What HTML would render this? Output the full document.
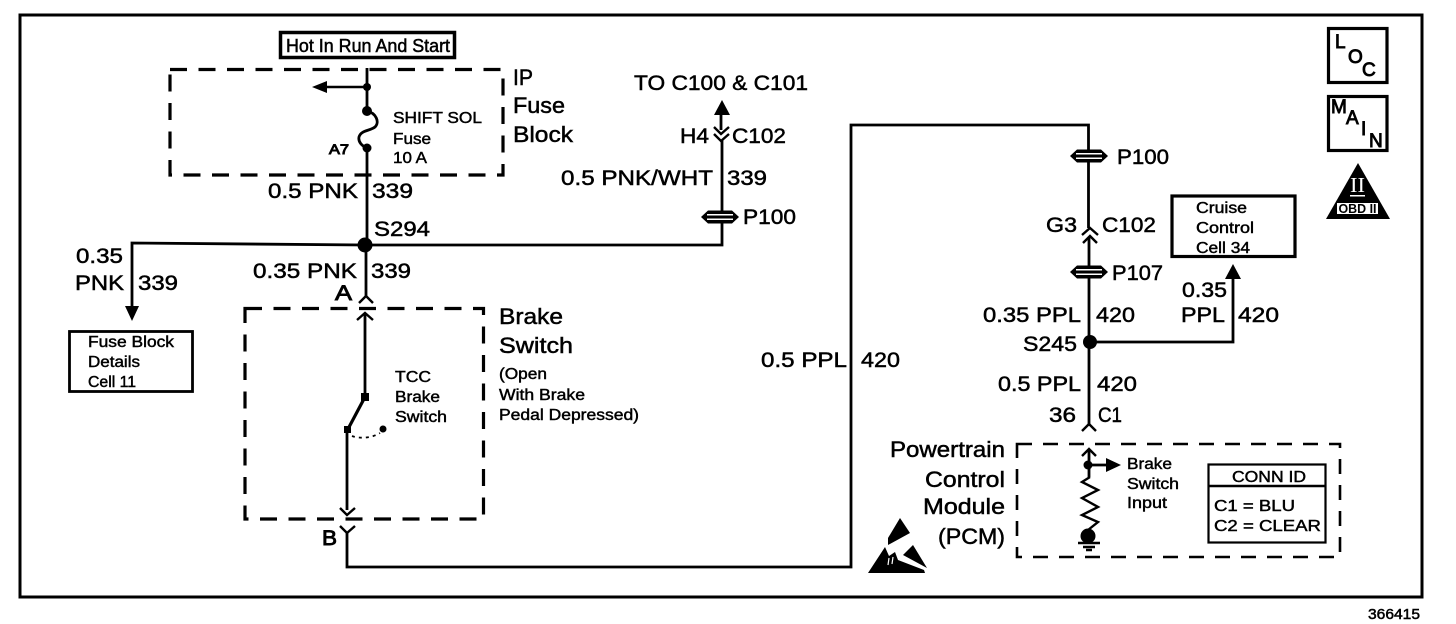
<!DOCTYPE html>
<html>
<head>
<meta charset="utf-8">
<style>
html,body{margin:0;padding:0;background:#fff;width:1456px;height:624px;overflow:hidden}
svg{display:block}
text{font-family:"Liberation Sans",sans-serif;fill:#000;stroke:#000;stroke-width:.5;font-size:21.5px}
.l{font-size:22.5px}
.s{font-size:15.5px;stroke-width:.45}
.b{font-weight:bold;stroke:none}
.h{stroke-width:.9}
.w{fill:none;stroke:#000;stroke-width:2.8}
.t{fill:none;stroke:#000;stroke-width:2.4}
.d{fill:none;stroke:#000;stroke-width:3.2;stroke-dasharray:17 11.5}
.k{fill:#000;stroke:none}
</style>
</head>
<body>
<svg width="1456" height="624" viewBox="0 0 1456 624" xmlns="http://www.w3.org/2000/svg">
<defs>
<g id="pc">
<path class="k" d="M-19 0L-12-6.5H12L19 0L12 6.5H-12Z"/>
<rect x="-13" y="-3" width="26" height="1.5" fill="#fff"/>
<rect x="-13" y="1.5" width="26" height="1.5" fill="#fff"/>
</g>
</defs>

<!-- outer frame -->
<rect x="20" y="15" width="1402" height="582" fill="none" stroke="#000" stroke-width="3"/>

<!-- top left -->
<rect x="280.5" y="32.5" width="174" height="25" fill="none" stroke="#000" stroke-width="3.5"/>
<text x="286" y="52" style="font-size:18.5px" textLength="164" lengthAdjust="spacingAndGlyphs">Hot In Run And Start</text>
<rect class="d" x="170" y="69.5" width="333" height="105.5"/>
<path class="w" d="M367 68V111M367 148V245"/>
<path class="t" d="M367 87H325"/>
<path class="k" d="M312 87L327 81V93Z"/>
<circle class="k" cx="367" cy="87" r="4"/>
<circle class="k" cx="367" cy="111" r="5"/>
<circle class="k" cx="367" cy="148" r="4.5"/>
<path class="w" d="M367 111C376 113 380 122 375 127C370 131 361 130 359 137C358 142 362 146 367 148"/>
<text class="s" x="393" y="123" textLength="89" lengthAdjust="spacingAndGlyphs">SHIFT SOL</text>
<text class="s" x="393" y="144" textLength="38" lengthAdjust="spacingAndGlyphs">Fuse</text>
<text class="s" x="393" y="163" textLength="34" lengthAdjust="spacingAndGlyphs">10 A</text>
<text class="h" x="329" y="154" style="font-size:13.5px" textLength="20" lengthAdjust="spacingAndGlyphs">A7</text>
<text class="l" x="513" y="85" textLength="20" lengthAdjust="spacingAndGlyphs">IP</text>
<text class="l" x="513" y="113" textLength="52" lengthAdjust="spacingAndGlyphs">Fuse</text>
<text class="l" x="513" y="142" textLength="60" lengthAdjust="spacingAndGlyphs">Block</text>
<text x="268" y="198" textLength="90" lengthAdjust="spacingAndGlyphs">0.5 PNK</text>
<text x="372" y="198" textLength="41" lengthAdjust="spacingAndGlyphs">339</text>
<text x="374" y="236" textLength="56" lengthAdjust="spacingAndGlyphs">S294</text>

<!-- S294 branch -->
<path class="w" d="M132 306V243L365 245H722V140"/>
<circle class="k" cx="365" cy="245" r="7.5"/>
<path class="w" d="M366 245V296"/>
<path class="t" d="M359 303L366 296L373 303"/>
<text x="253" y="278" textLength="104" lengthAdjust="spacingAndGlyphs">0.35 PNK</text>
<text x="371" y="278" textLength="40" lengthAdjust="spacingAndGlyphs">339</text>
<text class="h" x="335" y="300" textLength="17" lengthAdjust="spacingAndGlyphs">A</text>
<text x="76" y="263" textLength="47" lengthAdjust="spacingAndGlyphs">0.35</text>
<text x="75" y="290" textLength="49" lengthAdjust="spacingAndGlyphs">PNK</text>
<text x="138" y="290" textLength="40" lengthAdjust="spacingAndGlyphs">339</text>
<path class="k" d="M125 306H139L132 321Z"/>
<rect x="69.5" y="331.5" width="123" height="60" fill="none" stroke="#000" stroke-width="2.8"/>
<text class="s" x="88" y="347" textLength="86" lengthAdjust="spacingAndGlyphs">Fuse Block</text>
<text class="s" x="88" y="367" textLength="52" lengthAdjust="spacingAndGlyphs">Details</text>
<text class="s" x="88" y="387" textLength="48" lengthAdjust="spacingAndGlyphs">Cell 11</text>

<!-- brake switch -->
<rect class="d" x="245" y="308.5" width="238.5" height="210.5"/>
<path class="t" d="M357 320L365 313L373 320"/>
<path class="w" d="M365 314V397"/>
<path fill="none" stroke="#000" stroke-width="3.2" d="M365 397L348 429"/>
<rect class="k" x="361" y="393" width="8" height="8"/>
<rect class="k" x="344" y="426" width="7" height="7"/>
<path class="w" d="M347 430V510"/>
<path class="t" d="M340 508L347 515L355 508"/>
<circle class="k" cx="383" cy="429" r="3.5"/>
<path fill="none" stroke="#000" stroke-width="1.8" stroke-dasharray="3 4" d="M352 436C360 439 372 438 380 433"/>
<text class="s" x="395" y="382" textLength="36" lengthAdjust="spacingAndGlyphs">TCC</text>
<text class="s" x="395" y="402" textLength="45" lengthAdjust="spacingAndGlyphs">Brake</text>
<text class="s" x="395" y="422" textLength="52" lengthAdjust="spacingAndGlyphs">Switch</text>
<text class="l" x="499" y="324" textLength="64" lengthAdjust="spacingAndGlyphs">Brake</text>
<text class="l" x="499" y="353" textLength="74" lengthAdjust="spacingAndGlyphs">Switch</text>
<text class="s" x="499" y="379" textLength="48" lengthAdjust="spacingAndGlyphs">(Open</text>
<text class="s" x="499" y="400" textLength="86" lengthAdjust="spacingAndGlyphs">With Brake</text>
<text class="s" x="499" y="420" textLength="140" lengthAdjust="spacingAndGlyphs">Pedal Depressed)</text>
<text class="h" x="322" y="545" textLength="15" lengthAdjust="spacingAndGlyphs">B</text>
<path class="t" d="M340 526L347 533L355 526"/>
<path class="w" d="M347 532V567H851V125H1088.5V228"/>

<!-- C100/C101 -->
<text x="634" y="90" textLength="174" lengthAdjust="spacingAndGlyphs">TO C100 &amp; C101</text>
<path class="k" d="M722 100L714 115H730Z"/>
<path class="w" d="M721 114V130"/>
<path class="t" d="M714 127L721 134L729 127M714 134L721 141L729 134"/>
<text x="680" y="143" textLength="29" lengthAdjust="spacingAndGlyphs">H4</text>
<text x="732" y="143" textLength="54" lengthAdjust="spacingAndGlyphs">C102</text>
<text x="561" y="185" textLength="152" lengthAdjust="spacingAndGlyphs">0.5 PNK/WHT</text>
<text x="727" y="185" textLength="40" lengthAdjust="spacingAndGlyphs">339</text>
<use href="#pc" x="720" y="217"/>
<text x="743" y="224" textLength="53" lengthAdjust="spacingAndGlyphs">P100</text>
<text x="761" y="367" textLength="86" lengthAdjust="spacingAndGlyphs">0.5 PPL</text>
<text x="861" y="367" textLength="39" lengthAdjust="spacingAndGlyphs">420</text>

<!-- right chain -->
<use href="#pc" x="1089" y="156"/>
<text x="1117" y="164" textLength="52" lengthAdjust="spacingAndGlyphs">P100</text>
<text x="1046" y="232" textLength="31" lengthAdjust="spacingAndGlyphs">G3</text>
<text x="1102" y="232" textLength="54" lengthAdjust="spacingAndGlyphs">C102</text>
<path class="t" d="M1082 235L1090 228L1098 235M1083 243L1090 236L1097 243"/>
<path class="w" d="M1089 237V426"/>
<use href="#pc" x="1089" y="272"/>
<text x="1112" y="280" textLength="51" lengthAdjust="spacingAndGlyphs">P107</text>
<text x="983" y="322" textLength="98" lengthAdjust="spacingAndGlyphs">0.35 PPL</text>
<text x="1096" y="322" textLength="39" lengthAdjust="spacingAndGlyphs">420</text>
<text x="1023" y="351" textLength="54" lengthAdjust="spacingAndGlyphs">S245</text>
<circle class="k" cx="1090" cy="342" r="7"/>
<path class="w" d="M1090 342H1233V276"/>
<path class="k" d="M1233 264L1225 279H1241Z"/>
<text x="1182" y="297" textLength="45" lengthAdjust="spacingAndGlyphs">0.35</text>
<text x="1181" y="322" textLength="44" lengthAdjust="spacingAndGlyphs">PPL</text>
<text x="1238" y="322" textLength="41" lengthAdjust="spacingAndGlyphs">420</text>
<text x="998" y="391" textLength="83" lengthAdjust="spacingAndGlyphs">0.5 PPL</text>
<text x="1097" y="391" textLength="40" lengthAdjust="spacingAndGlyphs">420</text>
<text x="1049" y="422" textLength="27" lengthAdjust="spacingAndGlyphs">36</text>
<text x="1098" y="422" textLength="24" lengthAdjust="spacingAndGlyphs">C1</text>
<path class="t" d="M1082 431L1089 424L1096 431"/>
<rect x="1172" y="196" width="123" height="60.5" fill="none" stroke="#000" stroke-width="3.2"/>
<text class="s" x="1196" y="213" textLength="51" lengthAdjust="spacingAndGlyphs">Cruise</text>
<text class="s" x="1196" y="233" textLength="58" lengthAdjust="spacingAndGlyphs">Control</text>
<text class="s" x="1196" y="253" textLength="54" lengthAdjust="spacingAndGlyphs">Cell 34</text>

<!-- LOC / MAIN / OBD -->
<rect x="1328.5" y="28.5" width="58.5" height="54" fill="none" stroke="#000" stroke-width="3.2"/>
<text class="h" x="1335" y="48" style="font-size:19px">L</text>
<text class="h" x="1348" y="63" style="font-size:19px">O</text>
<text class="h" x="1362" y="76" style="font-size:19px">C</text>
<rect x="1328.5" y="96.5" width="58.5" height="54" fill="none" stroke="#000" stroke-width="3.2"/>
<text class="h" x="1331" y="113" style="font-size:19px">M</text>
<text class="h" x="1346" y="124" style="font-size:19px">A</text>
<text class="h" x="1361" y="135" style="font-size:19px">I</text>
<text class="h" x="1369" y="147" style="font-size:19px">N</text>
<path class="k" d="M1358 163L1326 219H1390Z"/>
<text x="1350" y="192" style="font-family:'Liberation Serif',serif;font-size:21px;fill:#fff;stroke:none" textLength="15" lengthAdjust="spacingAndGlyphs">II</text>
<rect x="1350" y="195" width="15" height="1.5" fill="#fff"/>
<rect x="1337" y="203" width="41" height="11" fill="#fff"/>
<text class="b" x="1338.5" y="213" style="font-size:12.5px" textLength="38" lengthAdjust="spacingAndGlyphs">OBD II</text>

<!-- PCM -->
<text class="l" x="890" y="457" textLength="115" lengthAdjust="spacingAndGlyphs">Powertrain</text>
<text class="l" x="925" y="487" textLength="80" lengthAdjust="spacingAndGlyphs">Control</text>
<text class="l" x="923" y="514" textLength="82" lengthAdjust="spacingAndGlyphs">Module</text>
<text class="l" x="938" y="544" textLength="67" lengthAdjust="spacingAndGlyphs">(PCM)</text>
<rect x="1017" y="444" width="323" height="113" fill="none" stroke="#000" stroke-width="2.6" stroke-dasharray="15 11"/>
<path class="t" d="M1082 456L1089 449L1096 456"/>
<path class="w" d="M1089 450V477"/>
<circle class="k" cx="1088" cy="465" r="4.5"/>
<path class="w" d="M1088 465H1108"/>
<path class="k" d="M1106 458L1121 465L1106 472Z"/>
<path class="t" d="M1090 477L1082 482L1098 490L1082 498L1098 507L1082 515L1098 522L1088 530"/>
<circle class="k" cx="1088" cy="536" r="7.5"/>
<path class="t" d="M1078 543H1100M1083 547H1095M1086 550H1092"/>
<text class="s" x="1127" y="469" textLength="45" lengthAdjust="spacingAndGlyphs">Brake</text>
<text class="s" x="1127" y="489" textLength="52" lengthAdjust="spacingAndGlyphs">Switch</text>
<text class="s" x="1127" y="508" textLength="40" lengthAdjust="spacingAndGlyphs">Input</text>
<rect x="1208.5" y="464.5" width="117" height="78" fill="none" stroke="#000" stroke-width="2.2"/>
<path class="t" d="M1208 486H1326"/>
<text class="s" x="1232" y="482" textLength="74" lengthAdjust="spacingAndGlyphs">CONN ID</text>
<text class="s" x="1214" y="511" textLength="81" lengthAdjust="spacingAndGlyphs">C1 = BLU</text>
<text class="s" x="1214" y="531" textLength="107" lengthAdjust="spacingAndGlyphs">C2 = CLEAR</text>

<!-- ESD symbol -->
<path class="k" d="M900 518L910 533L888 545V538Z"/>
<path class="k" d="M913 545L927 568L903 555Z"/>
<path class="k" d="M868 573L885 547L889 556L895 552L898 560L924 570L925 573Z"/>
<path fill="none" stroke="#fff" stroke-width="1.2" d="M889 558L888 565M893 557L892 564"/>

<text x="1368" y="619" style="font-size:14.5px" textLength="52" lengthAdjust="spacingAndGlyphs">366415</text>
</svg>
</body>
</html>
